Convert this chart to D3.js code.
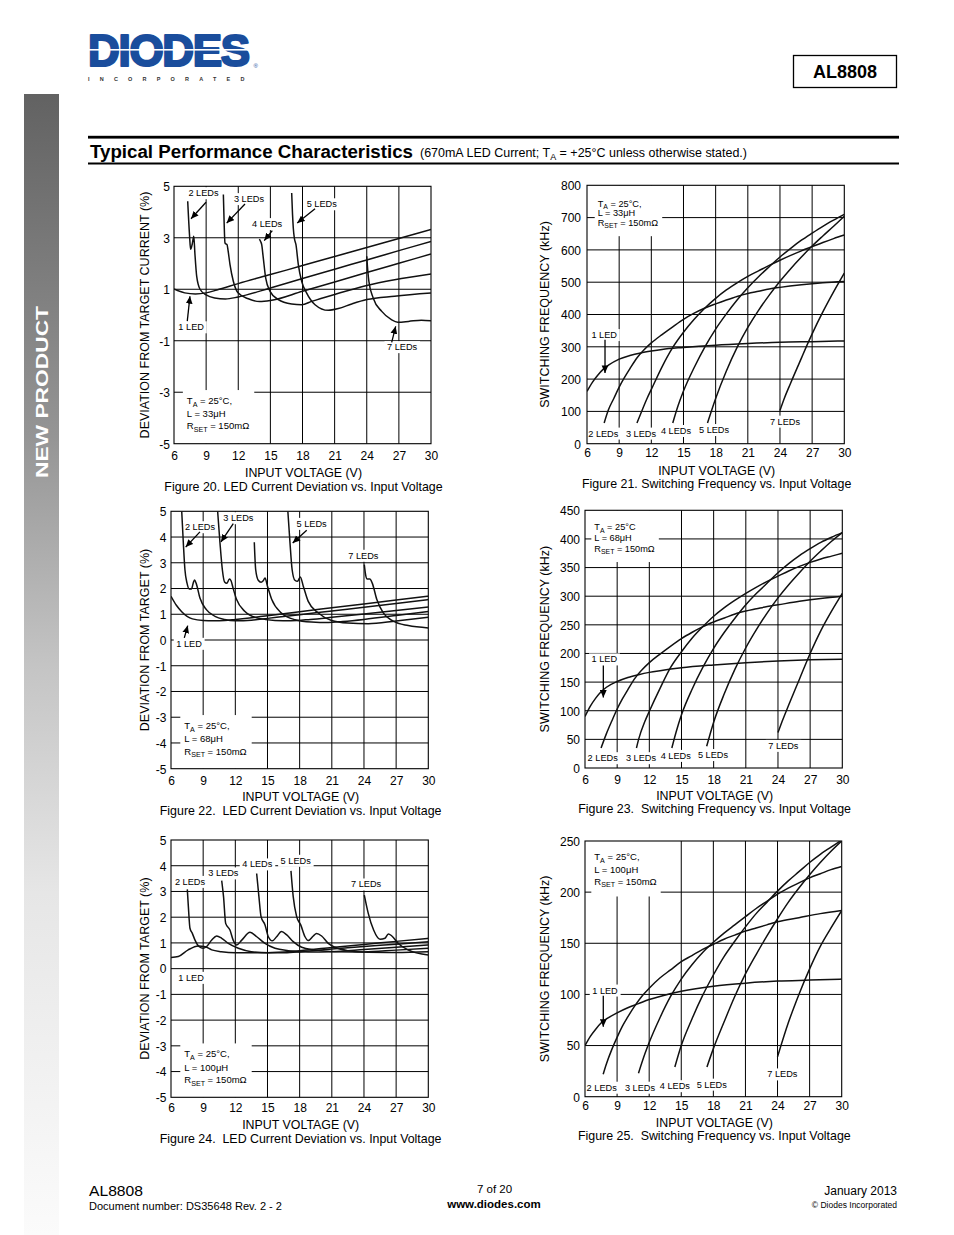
<!DOCTYPE html>
<html><head><meta charset="utf-8">
<script src="https://cdn.jsdelivr.net/npm/d3@7"></script>
<style>
html,body{margin:0;padding:0;background:#fff;}
svg{display:block;font-family:"Liberation Sans",Arial,Helvetica,sans-serif;}
</style></head><body>
<svg id="page" width="954" height="1235"></svg>
<script>
// ---------- tick values ----------
const X_TICKS = [6, 9, 12, 15, 18, 21, 24, 27, 30];
const DEV_TICKS_20 = [5, 3, 1, -1, -3, -5];
const DEV_TICKS_1 = [5, 4, 3, 2, 1, 0, -1, -2, -3, -4, -5];
const FREQ_TICKS_21 = [0, 100, 200, 300, 400, 500, 600, 700, 800];
const FREQ_TICKS_23 = [0, 50, 100, 150, 200, 250, 300, 350, 400, 450];
const FREQ_TICKS_25 = [0, 50, 100, 150, 200, 250];
const SERIES_NAMES = ['1 LED', '2 LEDs', '3 LEDs', '4 LEDs', '5 LEDs', '7 LEDs'];

// ---------- Figure 20: deviation (%) vs Vin, L = 33uH ----------
const F20_1 = [[6,1.01],[7,0.86],[8,0.82],[9,0.86],[10,0.97],[12,1.22],[15,1.57],[18,1.92],[21,2.27],[24,2.62],[27,2.97],[30,3.32]];
const F20_2 = [[7.28,4.42],[7.45,3.1],[7.55,2.55],[7.7,2.75],[7.85,3.06],[7.95,2.4],[8.12,1.5],[8.43,1.0],[9.0,0.78],[9.8,0.66],[10.8,0.62],[12,0.7],[15,1.05],[18,1.42],[21,1.78],[24,2.14],[27,2.5],[30,2.86]];
const F20_3 = [[10.61,4.68],[10.68,3.6],[10.76,2.8],[10.85,2.76],[10.95,2.74],[11.05,2.5],[11.23,1.96],[11.54,1.31],[12.0,0.85],[12.94,0.63],[14.0,0.52],[15,0.56],[18,0.92],[21,1.28],[24,1.65],[27,2.01],[30,2.37]];
const F20_4 = [[13.97,2.95],[14.1,2.85],[14.19,2.73],[14.34,2.21],[14.56,1.44],[14.97,0.92],[15.74,0.6],[16.99,0.43],[17.92,0.4],[18.86,0.53],[21,0.8],[24,1.15],[26.6,1.37],[30,1.59]];
const F20_5 = [[16.99,4.74],[17.07,3.9],[17.14,3.38],[17.24,2.99],[17.39,2.73],[17.61,1.96],[17.92,1.31],[18.39,0.85],[19.17,0.4],[20.41,0.18],[21.35,0.25],[22.6,0.43],[24,0.6],[26.6,0.73],[30,0.85]];
const F20_7 = [[24.0,2.28],[24.1,1.7],[24.2,1.31],[24.6,0.66],[25.4,0.14],[26.3,-0.18],[26.9,-0.28],[27.9,-0.25],[29.1,-0.2],[30,-0.22]];

// ---------- Figure 21: switching frequency (kHz), L = 33uH ----------
const F21_1 = [[6,162],[6.5,190],[7,212],[7.5,230],[8,243],[9,262],[10,273],[11,281],[12,287],[13,292],[15,298],[18,305],[21,310],[24,314],[27,316],[30,318]];
const F21_2 = [[7.6,64],[8,105],[8.5,140],[9,175],[9.5,205],[10,232],[10.67,266],[11.3,290],[12,312],[13,338],[14,362],[15,385],[16,404],[17,420],[18,433],[19,445],[20,456],[21,465],[22,472],[23,479],[24,484],[26,492],[28,498],[30,502]];
const F21_3 = [[10.66,64],[11,92],[11.6,140],[12,168],[13,238],[14,298],[15,345],[16,385],[17,420],[18,450],[19,476],[20,498],[21,518],[22,535],[23,552],[24,568],[25,583],[26,597],[27,610],[28,623],[29,635],[30,646]];
const F21_4 = [[14,64],[14.5,118],[15,163],[16,236],[17,300],[18,355],[19,402],[20,445],[21,483],[22,517],[23,548],[24,578],[25,605],[26,630],[27,652],[28,673],[29,692],[30,710]];
const F21_5 = [[17.24,64],[18,140],[19,225],[20,298],[21,360],[22,413],[23,460],[24,503],[25,542],[26,578],[27,612],[28,643],[29,673],[30,704]];
const F21_7 = [[24,103],[24.4,140],[25,188],[26,265],[26.4,296],[27,340],[28,408],[29,470],[30,528]];

// ---------- Figure 22: deviation (%), L = 68uH ----------
const F22_1 = [[6,1.7],[6.5,1.35],[7,1.1],[7.5,0.92],[8,0.82],[9,0.76],[10,0.75],[11,0.76],[12,0.8],[15,0.94],[18,1.1],[21,1.25],[24,1.4],[27,1.55],[30,1.7]];
const F22_2 = [[7.0,5.0],[7.15,3.77],[7.3,2.73],[7.5,2.2],[7.7,1.98],[7.9,1.98],[8.1,2.25],[8.2,2.33],[8.35,2.2],[8.7,1.63],[9.3,1.18],[10.1,0.92],[11,0.8],[12,0.75],[13.5,0.77],[15,0.84],[18,0.98],[21,1.13],[24,1.27],[27,1.42],[30,1.57]];
const F22_3 = [[10.35,5.0],[10.57,3.77],[10.79,2.73],[11.0,2.25],[11.2,2.2],[11.45,2.37],[11.6,2.3],[11.8,2.0],[12.12,1.57],[12.9,1.11],[14.1,0.85],[15.7,0.76],[17.2,0.75],[19,0.8],[21,0.88],[24,1.01],[27,1.15],[30,1.28]];
const F22_4 = [[13.77,3.8],[13.9,2.73],[14.14,2.32],[14.4,2.24],[14.6,2.3],[14.77,2.41],[15.0,2.09],[15.4,1.57],[16.3,1.05],[17.56,0.79],[19.1,0.7],[20.7,0.68],[22,0.72],[24,0.8],[27,0.95],[30,1.11]];
const F22_5 = [[16.9,5.0],[17.1,3.77],[17.3,2.73],[17.56,2.32],[17.8,2.28],[18.06,2.45],[18.34,2.09],[18.8,1.5],[19.74,1.05],[20.98,0.76],[22.5,0.66],[24.4,0.63],[27,0.74],[30,0.88]];
const F22_7 = [[24.03,2.93],[24.15,2.54],[24.3,2.37],[24.55,2.37],[24.77,2.21],[25.2,1.57],[25.8,1.05],[26.73,0.73],[28.13,0.56],[30,0.47]];

// ---------- Figure 23: switching frequency (kHz), L = 68uH ----------
const F23_1 = [[6,90],[6.5,108],[7,122],[7.5,133],[8,141],[9,151],[10,158],[11,163],[12,167],[13,170],[15,175],[18,180],[21,184],[24,187],[27,189],[30,190]];
const F23_2 = [[7.5,35],[8,60],[8.5,82],[9,103],[9.5,121],[10,137],[10.67,157],[11.3,171],[12,184],[13,199],[14,213],[15,226],[16,237],[17,247],[18,255],[19,262],[20,269],[21,274],[22,278],[23,282],[24,285],[26,291],[28,296],[30,300]];
const F23_3 = [[10.8,35],[11,50],[11.6,82],[12,99],[13,139],[14,176],[15,203],[16,227],[17,247],[18,265],[19,280],[20,293],[21,305],[22,316],[23,326],[24,335],[25,344],[26,352],[27,359],[28,365],[29,370],[30,375]];
const F23_4 = [[14.1,35],[14.5,63],[15,93],[16,138],[17,176],[18,209],[19,237],[20,262],[21,285],[22,305],[23,323],[24,341],[25,357],[26,371],[27,383],[28,394],[29,403],[30,411]];
const F23_5 = [[17.35,38],[18,80],[19,130],[20,173],[21,210],[22,242],[23,271],[24,297],[25,320],[26,341],[27,361],[28,379],[29,396],[30,411]];
const F23_7 = [[24,62],[24.4,82],[25,110],[26,155],[27,200],[28,240],[29,274],[30,305]];

// ---------- Figure 24: deviation (%), L = 100uH ----------
const F24_1 = [[6,0.43],[6.68,0.47],[7.6,0.73],[8.55,0.88],[9.2,0.85],[9.8,0.73],[10.7,0.66],[12,0.62],[15,0.62],[18,0.7],[21,0.82],[24,0.94],[27,1.06],[30,1.18]];
const F24_2 = [[7.52,3.08],[7.62,2.41],[7.77,1.57],[7.99,1.37],[8.24,1.11],[8.64,0.85],[9.0,0.79],[9.3,0.85],[9.8,1.11],[10.26,1.27],[10.73,1.18],[11.35,0.98],[12.28,0.79],[13.5,0.66],[15.1,0.62],[16.6,0.62],[18.2,0.66],[21,0.76],[24,0.86],[27,0.95],[30,1.05]];
const F24_3 = [[10.73,3.42],[10.9,2.8],[11.1,1.76],[11.5,1.5],[11.8,1.11],[12.12,0.92],[12.6,1.11],[13.37,1.41],[14.0,1.24],[14.77,0.98],[15.7,0.79],[16.94,0.7],[18.8,0.65],[21,0.66],[24,0.74],[27,0.83],[30,0.92]];
const F24_4 = [[13.99,3.7],[14.2,2.8],[14.4,2.02],[14.77,1.7],[15.08,1.24],[15.45,1.08],[15.85,1.24],[16.3,1.44],[16.8,1.31],[17.4,1.05],[18.19,0.83],[19.4,0.73],[21.3,0.66],[24,0.65],[27,0.72],[30,0.79]];
const F24_5 = [[17.19,3.8],[17.4,2.8],[17.72,2.02],[18.1,1.7],[18.5,1.24],[18.8,1.09],[19.27,1.27],[19.58,1.37],[20.05,1.27],[20.67,0.98],[21.3,0.83],[22.5,0.7],[24.4,0.64],[27,0.63],[30,0.66]];
const F24_7 = [[24.03,2.86],[24.4,2.15],[24.9,1.5],[25.5,1.14],[25.96,1.18],[26.27,1.35],[26.6,1.27],[27.2,0.98],[28.1,0.73],[30,0.53]];

// ---------- Figure 25: switching frequency (kHz), L = 100uH ----------
const F25_1 = [[6,50],[6.5,59],[7,66],[7.5,72],[8,76],[9,82],[10,87],[11,91],[12,95],[13,98],[15,103],[18,108],[21,111],[24,113],[27,114],[30,115]];
const F25_2 = [[7.7,22],[8,32],[8.5,46],[9,58],[9.5,69],[10,78],[10.67,89],[11.3,98],[12,106],[13,116],[14,124],[15,132],[16,138],[17,144],[18,149],[19,154],[20,158],[21,162],[22,165],[23,168],[24,171],[26,175],[28,179],[30,182]];
const F25_3 = [[11,23],[11.6,42],[12,53],[13,77],[14,98],[15,115],[16,129],[17,141],[18,151],[19,160],[20,168],[21,176],[22,184],[23,191],[24,198],[25,204],[26,209],[27,214],[28,218],[29,222],[30,225]];
const F25_4 = [[14.4,29],[15,50],[16,76],[17,99],[18,119],[19,137],[20,152],[21,166],[22,179],[23,190],[24,201],[25,211],[26,220],[27,229],[28,237],[29,244],[30,251]];
const F25_5 = [[17.4,29],[18,47],[19,73],[20,98],[21,120],[22,139],[23,157],[24,174],[25,190],[26,204],[27,217],[28,229],[29,240],[30,250]];
const F25_7 = [[24,39],[25,72],[26,100],[27,125],[28,147],[29,165],[30,182]];

// ---------- in-chart labels [text, V, value] and arrows [V1, y1, V2, y2] ----------
const F20_LABELS = [['2 LEDs',8.75,4.74],['3 LEDs',13.0,4.51],['4 LEDs',14.7,3.54],['5 LEDs',19.8,4.31],['1 LED',7.6,-0.47],['7 LEDs',27.3,-1.24]];
const F20_ARROWS = [[8.99,4.38,7.59,3.74],[12.63,4.31,10.92,3.57],[15.18,3.28,14.43,2.89],[19.17,4.13,17.51,3.57],[7.24,-0.24,7.49,0.73],[26.33,-1.06,26.7,-0.44]];
const F21_LABELS = [['1 LED',7.6,337],['2 LEDs',7.52,32],['3 LEDs',11.04,32],['4 LEDs',14.3,40],['5 LEDs',17.85,43],['7 LEDs',24.47,69]];
const F21_ARROWS = [[7.68,322,7.68,219]];
const F22_LABELS = [['2 LEDs',8.7,4.39],['3 LEDs',12.28,4.74],['5 LEDs',19.12,4.52],['7 LEDs',23.94,3.28],['1 LED',7.68,-0.14]];
const F22_ARROWS = [[8.7,4.2,7.37,3.61],[11.81,4.52,10.66,3.81],[18.66,4.26,17.35,3.77],[7.24,0.08,7.56,0.56]];
const F23_LABELS = [['1 LED',7.8,190],['2 LEDs',7.65,17.5],['3 LEDs',11.22,17.5],['4 LEDs',14.46,21.5],['5 LEDs',17.94,23],['7 LEDs',24.5,39]];
const F23_ARROWS = [[7.71,179,7.71,123]];
const F24_LABELS = [['2 LEDs',7.77,3.38],['3 LEDs',10.88,3.71],['4 LEDs',14.05,4.06],['5 LEDs',17.63,4.2],['7 LEDs',24.2,3.28],['1 LED',7.87,-0.35]];
const F24_ARROWS = [];
const F25_LABELS = [['1 LED',7.87,104],['2 LEDs',7.56,9],['3 LEDs',11.14,9],['4 LEDs',14.4,10.5],['5 LEDs',17.85,12],['7 LEDs',24.45,22]];
const F25_ARROWS = [[7.71,98.7,7.71,68.4]];

// ---------- page ----------
const page = d3.select('#page');
const defs = page.append('defs');
const grad = defs.append('linearGradient').attr('id','sideGrad').attr('x1',0).attr('y1',0).attr('x2',0).attr('y2',1);
[[0,'#626262'],[0.3,'#959595'],[0.5,'#c4c4c4'],[0.7,'#e6e6e6'],[1,'#fbfbfb']].forEach(s=>grad.append('stop').attr('offset',s[0]).attr('stop-color',s[1]));
defs.append('marker').attr('id','arr').attr('viewBox','0 0 10 10').attr('refX',10).attr('refY',5)
  .attr('markerWidth',7.5).attr('markerHeight',7.5).attr('markerUnits','userSpaceOnUse').attr('orient','auto')
  .append('path').attr('d','M0,0.5 L10,5 L0,9.5 Z').attr('fill','#000');

// sidebar
page.append('rect').attr('x',24).attr('y',94).attr('width',35).attr('height',1141).attr('fill','url(#sideGrad)');
page.append('text').attr('transform','translate(48,392) rotate(-90)').attr('text-anchor','middle')
  .attr('fill','#fff').style('font-size','17px').style('font-weight','bold').attr('textLength',172)
  .attr('lengthAdjust','spacingAndGlyphs').text('NEW PRODUCT');

// logo
const logo = page.append('text').attr('fill','#1a4d9c');
logo.append('tspan').attr('x',88).attr('y',66).attr('stroke','#1a4d9c').attr('stroke-width',2.2)
  .attr('stroke-linejoin','round').style('font-size','44px').style('font-weight','900').style('letter-spacing','-1.3px').text('DIODES');
logo.append('tspan').attr('x',253.5).attr('y',67.5).style('font-size','6px').text('®');
page.append('rect').attr('x',86).attr('y',49).attr('width',166).attr('height',1.6).attr('fill','#fff');
page.append('text').attr('x',88).attr('y',80.6).attr('fill','#333').style('font-size','5.5px').style('font-weight','bold')
  .style('letter-spacing','10.2px').text('INCORPORATED');

// part box
page.append('rect').attr('x',793.5).attr('y',55.5).attr('width',103).attr('height',32).attr('fill','none').attr('stroke','#000').attr('stroke-width',1.3);
page.append('text').attr('x',845).attr('y',78).attr('text-anchor','middle').style('font-size','18px').style('font-weight','bold').text('AL8808');

// section header
page.append('rect').attr('x',88).attr('y',135.8).attr('width',811).attr('height',2.8).attr('fill','#000');
page.append('rect').attr('x',88).attr('y',162.5).attr('width',811).attr('height',2).attr('fill','#000');
page.append('text').attr('x',90).attr('y',157.5).style('font-size','17.5px').style('font-weight','bold')
  .attr('textLength',323).attr('lengthAdjust','spacingAndGlyphs').text('Typical Performance Characteristics');
const sub = page.append('text').attr('x',420).attr('y',157).style('font-size','12.5px').attr('textLength',327).attr('lengthAdjust','spacingAndGlyphs');
sub.append('tspan').text('(670mA LED Current; T');
sub.append('tspan').attr('dy',2.5).style('font-size','9px').text('A');
sub.append('tspan').attr('dy',-2.5).text(' = +25°C unless otherwise stated.)');

// footer
page.append('text').attr('x',89).attr('y',1196).style('font-size','14.5px').attr('textLength',54).attr('lengthAdjust','spacingAndGlyphs').text('AL8808');
page.append('text').attr('x',89).attr('y',1210).style('font-size','10.5px').attr('textLength',193).attr('lengthAdjust','spacingAndGlyphs').text('Document number: DS35648 Rev. 2 - 2');
page.append('text').attr('x',494.5).attr('y',1193).attr('text-anchor','middle').style('font-size','11.5px').text('7 of 20');
page.append('text').attr('x',494).attr('y',1208).attr('text-anchor','middle').style('font-size','11.5px').style('font-weight','bold').text('www.diodes.com');
page.append('text').attr('x',897).attr('y',1195).attr('text-anchor','end').style('font-size','12px').text('January 2013');
page.append('text').attr('x',897).attr('y',1208).attr('text-anchor','end').style('font-size','8.5px').text('© Diodes Incorporated');

// ---------- chart specs (layout only) ----------
const CHARTS = [
 {id:20, box:[174,186.3,431,443.7], yDomain:[-5,5], yTicks:DEV_TICKS_20, series:[F20_1,F20_2,F20_3,F20_4,F20_5,F20_7],
  labels:F20_LABELS, arrows:F20_ARROWS, note:{v:7.2, ys:[-3.46,-3.96,-4.44], L:'33μH', comma:true, place:'bottom', fs:9.5},
  yTitle:'DEVIATION FROM TARGET CURRENT (%)', yTitleX:149, yPad:4, tickBase:460, titleBase:476.5, capBase:490.5,
  caption:'Figure 20. LED Current Deviation vs. Input Voltage'},
 {id:21, box:[587,185.3,844.3,443.7], yDomain:[0,800], yTicks:FREQ_TICKS_21, series:[F21_1,F21_2,F21_3,F21_4,F21_5,F21_7],
  labels:F21_LABELS, arrows:F21_ARROWS, note:{v:7.0, ys:[734,705,675], L:'33μH', comma:true, place:'top', fs:9.2},
  yTitle:'SWITCHING FREQUENCY (kHz)', yTitleX:549, yPad:6, tickBase:457, titleBase:475, capBase:488,
  caption:'Figure 21. Switching Frequency vs. Input Voltage'},
 {id:22, box:[171,511.3,428.3,768.7], yDomain:[-5,5], yTicks:DEV_TICKS_1, series:[F22_1,F22_2,F22_3,F22_4,F22_5,F22_7],
  labels:F22_LABELS, arrows:F22_ARROWS, note:{v:7.24, ys:[-3.46,-3.97,-4.46], L:'68μH', comma:true, place:'bottom', fs:9.5},
  yTitle:'DEVIATION FROM TARGET (%)', yTitleX:149, yPad:4.5, tickBase:785, titleBase:800.5, capBase:814.5,
  caption:'Figure 22.  LED Current Deviation vs. Input Voltage'},
 {id:23, box:[585,510.3,842.3,768], yDomain:[0,450], yTicks:FREQ_TICKS_23, series:[F23_1,F23_2,F23_3,F23_4,F23_5,F23_7],
  labels:F23_LABELS, arrows:F23_ARROWS, note:{v:6.87, ys:[415,397,378], L:'68μH', comma:false, place:'top', fs:9.2},
  yTitle:'SWITCHING FREQUENCY (kHz)', yTitleX:549, yPad:5, tickBase:784, titleBase:799.5, capBase:813,
  caption:'Figure 23.  Switching Frequency vs. Input Voltage'},
 {id:24, box:[171,840,428.3,1097.3], yDomain:[-5,5], yTicks:DEV_TICKS_1, series:[F24_1,F24_2,F24_3,F24_4,F24_5,F24_7],
  labels:F24_LABELS, arrows:F24_ARROWS, note:{v:7.24, ys:[-3.45,-3.98,-4.46], L:'100μH', comma:true, place:'bottom', fs:9.5},
  yTitle:'DEVIATION FROM TARGET (%)', yTitleX:149, yPad:4.5, tickBase:1112, titleBase:1128.5, capBase:1142.5,
  caption:'Figure 24.  LED Current Deviation vs. Input Voltage'},
 {id:25, box:[585,841,841.7,1096.7], yDomain:[0,250], yTicks:FREQ_TICKS_25, series:[F25_1,F25_2,F25_3,F25_4,F25_5,F25_7],
  labels:F25_LABELS, arrows:F25_ARROWS, note:{v:6.87, ys:[231,219,207], L:'100μH', comma:true, place:'top', fs:9.5},
  yTitle:'SWITCHING FREQUENCY (kHz)', yTitleX:549, yPad:5, tickBase:1110, titleBase:1127, capBase:1140,
  caption:'Figure 25.  Switching Frequency vs. Input Voltage'}
];

function addBg(layer, bb, padX, padY){
  layer.append('rect').attr('x',bb.x-padX).attr('y',bb.y-padY).attr('width',bb.width+2*padX).attr('height',bb.height+2*padY).attr('fill','#fff');
}

function drawChart(c){
  const [L,T,R,B] = c.box;
  const x = d3.scaleLinear().domain([6,30]).range([L,R]);
  const y = d3.scaleLinear().domain(c.yDomain).range([B,T]);
  const g = page.append('g');
  const gridG = g.append('g');
  const bgG = g.append('g');
  const frameG = g.append('g');
  const lineG = g.append('g');
  const txtG = g.append('g');

  gridG.selectAll('line.v').data(X_TICKS.filter(v=>v>6&&v<30)).join('line')
    .attr('x1',d=>x(d)).attr('x2',d=>x(d)).attr('y1',T).attr('y2',B).attr('stroke','#000').attr('stroke-width',1);
  const [d0,d1] = c.yDomain;
  gridG.selectAll('line.h').data(c.yTicks.filter(v=>v>d0&&v<d1)).join('line')
    .attr('x1',L).attr('x2',R).attr('y1',d=>y(d)).attr('y2',d=>y(d)).attr('stroke','#000').attr('stroke-width',1);
  frameG.append('rect').attr('x',L).attr('y',T).attr('width',R-L).attr('height',B-T).attr('fill','none').attr('stroke','#000').attr('stroke-width',1.1);

  // axes (labels only)
  const fmt = d => String(d);
  const ax = g.append('g').attr('transform',`translate(0,${B})`).call(d3.axisBottom(x).tickValues(X_TICKS).tickSize(0).tickFormat(fmt));
  ax.select('.domain').remove();
  ax.selectAll('text').attr('y',c.tickBase-B).attr('dy',null).style('font-size','12px').style('font-family','"Liberation Sans",Arial,sans-serif').attr('fill','#000');
  const ay = g.append('g').attr('transform',`translate(${L},0)`).call(d3.axisLeft(y).tickValues(c.yTicks).tickSize(0).tickPadding(c.yPad).tickFormat(fmt));
  ay.select('.domain').remove();
  ay.selectAll('text').style('font-size','12px').style('font-family','"Liberation Sans",Arial,sans-serif').attr('fill','#000').attr('dy','0.36em');

  // titles
  g.append('text').attr('x',(L+R)/2+1).attr('y',c.titleBase).attr('text-anchor','middle').style('font-size','12.4px').text('INPUT VOLTAGE (V)');
  g.append('text').attr('x',(L+R)/2+1).attr('y',c.capBase).attr('text-anchor','middle').style('font-size','12.4px').style('white-space','pre').text(c.caption);
  g.append('text').attr('transform',`translate(${c.yTitleX},${(T+B)/2}) rotate(-90)`).attr('text-anchor','middle').style('font-size','12.5px').text(c.yTitle);

  // curves
  const clipId = 'clip'+c.id;
  defs.append('clipPath').attr('id',clipId).append('rect').attr('x',L).attr('y',T).attr('width',R-L).attr('height',B-T);
  const line = d3.line().x(d=>x(d[0])).y(d=>y(d[1])).curve(d3.curveMonotoneX);
  lineG.attr('clip-path',`url(#${clipId})`).selectAll('path').data(c.series).join('path')
    .attr('d',line).attr('fill','none').attr('stroke','#111').attr('stroke-width',1.5).attr('stroke-linejoin','round')
    .append('title').text((d,i)=>SERIES_NAMES[i]);

  // labels
  c.labels.forEach(l=>{
    const t = txtG.append('text').attr('x',x(l[1])).attr('y',y(l[2])).attr('dy','0.35em').attr('text-anchor','middle')
      .style('font-size','9.2px').text(l[0]);
    addBg(bgG, t.node().getBBox(), 2.5, 1);
  });
  // arrows
  c.arrows.forEach(a=>{
    txtG.append('line').attr('x1',x(a[0])).attr('y1',y(a[1])).attr('x2',x(a[2])).attr('y2',y(a[3]))
      .attr('stroke','#000').attr('stroke-width',1.3).attr('marker-end','url(#arr)');
  });
  // note block
  const n = c.note, fs = n.fs;
  const ng = txtG.append('g').style('font-size',fs+'px');
  const t1 = ng.append('text').attr('x',x(n.v)).attr('y',y(n.ys[0]));
  t1.append('tspan').text('T');
  t1.append('tspan').attr('dy',2.5).style('font-size',(fs*0.75)+'px').text('A');
  t1.append('tspan').attr('dy',-2.5).text(' = 25°C' + (n.comma?',':''));
  ng.append('text').attr('x',x(n.v)).attr('y',y(n.ys[1])).text('L = ' + n.L);
  const t3 = ng.append('text').attr('x',x(n.v)).attr('y',y(n.ys[2]));
  t3.append('tspan').text('R');
  t3.append('tspan').attr('dy',2.5).style('font-size',(fs*0.75)+'px').text('SET');
  t3.append('tspan').attr('dy',-2.5).text(' = 150mΩ');
  const bb = ng.node().getBBox();
  if (n.place==='bottom'){
    bgG.append('rect').attr('x',bb.x-4).attr('y',bb.y-5).attr('width',bb.width+9).attr('height',B-(bb.y-5)).attr('fill','#fff');
  } else {
    bgG.append('rect').attr('x',bb.x-3).attr('y',T).attr('width',bb.width+7).attr('height',bb.y+bb.height+7-T).attr('fill','#fff');
  }
}

CHARTS.forEach(drawChart);
</script>
</body></html>
